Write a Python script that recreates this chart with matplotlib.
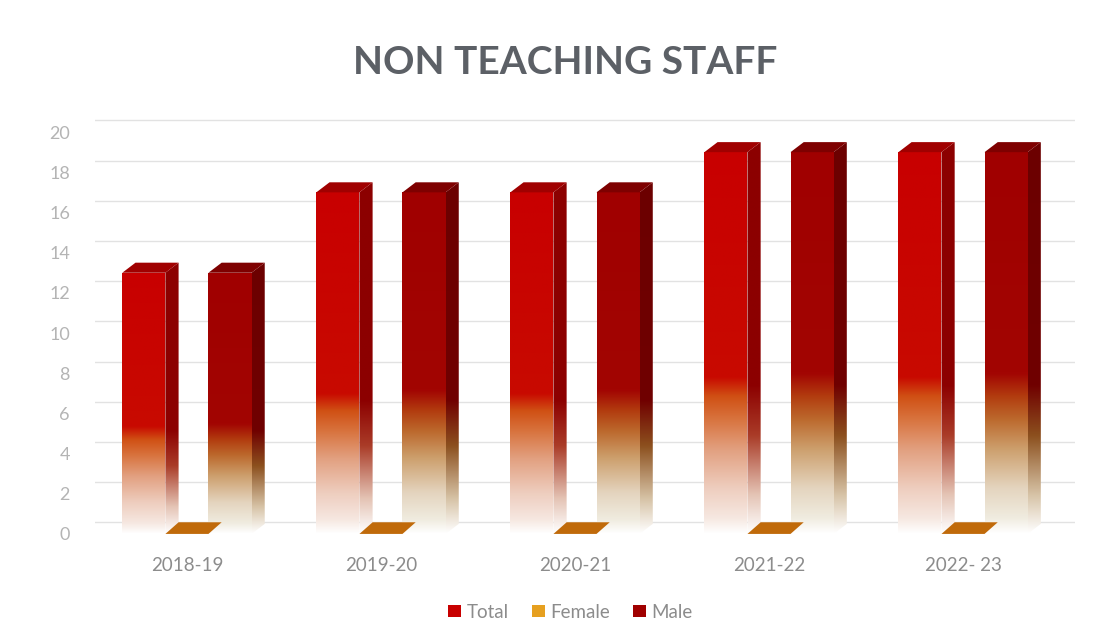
import numpy as np
import matplotlib
matplotlib.use("Agg")
import matplotlib.pyplot as plt
from matplotlib.patches import Polygon, Patch
from matplotlib.colors import LinearSegmentedColormap

categories = ["2018-19", "2019-20", "2020-21", "2021-22", "2022- 23"]
total = [13, 17, 17, 19, 19]
female = [0, 0, 0, 0, 0]
male = [13, 17, 17, 19, 19]
yticks = [0, 2, 4, 6, 8, 10, 12, 14, 16, 18, 20]

plt.rcParams['font.family'] = ['Lato', 'DejaVu Sans']

fig = plt.figure(figsize=(11.12, 6.41), dpi=100)
ax = fig.add_axes([0.0854, 0.1498, 0.8813, 0.6661])
ax.set_xlim(-0.474, 4.577)
ax.set_ylim(-0.55, 20.70)

W = 0.222      # bar width (category units)
OFF = 0.222    # offset of Total / Male
DX = 0.068     # 3D depth in x
DY = 0.5       # 3D depth in y
grid_off = 0.58

for v in yticks:
    ax.axhline(v + grid_off, color="#e2e2e2", lw=1.0, zorder=0)


def cmap_from(stops, name):
    return LinearSegmentedColormap.from_list(
        name, [(p, tuple(c / 255 for c in col)) for p, col in stops])


total_front = cmap_from([(0.0, (255, 255, 255)), (0.04, (246, 232, 225)),
                         (0.12, (238, 205, 190)), (0.22, (226, 160, 128)),
                         (0.3, (216, 115, 62)), (0.36, (208, 80, 20)),
                         (0.41, (200, 10, 0)), (1.0, (200, 0, 0))], "tf")
total_side = cmap_from([(0.0, (255, 255, 255)), (0.1, (228, 195, 180)),
                        (0.25, (170, 60, 40)), (0.38, (140, 0, 0)),
                        (1.0, (140, 0, 0))], "ts")
male_front = cmap_from([(0.0, (255, 255, 255)), (0.04, (240, 236, 224)),
                        (0.12, (228, 212, 190)), (0.22, (205, 160, 110)),
                        (0.3, (188, 105, 45)), (0.36, (178, 60, 15)),
                        (0.42, (162, 5, 2)), (1.0, (160, 0, 0))], "mf")
male_side = cmap_from([(0.0, (255, 255, 255)), (0.1, (214, 194, 165)),
                       (0.25, (140, 80, 30)), (0.38, (112, 0, 0)),
                       (1.0, (108, 0, 0))], "ms")

grad = np.linspace(0, 1, 256).reshape(-1, 1)


def gradient_poly(pts, cmap, ymax, z):
    poly = Polygon(pts, closed=True, facecolor="none", edgecolor="none", zorder=z)
    ax.add_patch(poly)
    xs = [p[0] for p in pts]
    im = ax.imshow(grad, extent=[min(xs), max(xs), 0, ymax], origin="lower",
                   aspect="auto", cmap=cmap, zorder=z, interpolation="bilinear")
    im.set_clip_path(poly)


def bar3d(xc, h, cf, cs, ctop, z):
    x0, x1 = xc - W / 2, xc + W / 2
    gradient_poly([(x1, 0), (x1 + DX, DY), (x1 + DX, h + DY), (x1, h)], cs, h + DY, z)
    gradient_poly([(x0, 0), (x1, 0), (x1, h), (x0, h)], cf, h, z + 0.1)
    ax.add_patch(Polygon([(x0, h), (x0 + DX, h + DY), (x1 + DX, h + DY), (x1, h)],
                         closed=True, facecolor=ctop, edgecolor="none", zorder=z + 0.2))


for i in range(len(categories)):
    bar3d(i - OFF, total[i], total_front, total_side, "#a00000", 2)
    bar3d(i + OFF, male[i], male_front, male_side, "#7e0000", 2)
    x0, x1 = i - W / 2, i + W / 2
    fv = female[i]
    ax.add_patch(Polygon([(x0, fv), (x1, fv), (x1 + DX, fv + 0.58), (x0 + DX, fv + 0.58)],
                         closed=True, facecolor="#c06a0a", edgecolor="none", zorder=3))

ax.set_xticks(range(len(categories)))
ax.set_xticklabels(categories)
ax.set_yticks(yticks)
ax.set_yticklabels([str(v) for v in yticks])
ax.tick_params(axis="x", length=0, pad=9, labelsize=13.5, labelcolor="#8c8c8c")
ax.tick_params(axis="y", length=0, pad=18, labelsize=13, labelcolor="#b4b4b4")
for s in ax.spines.values():
    s.set_visible(False)

fig.text(0.508, 0.903, "NON TEACHING STAFF", ha="center", va="center",
         fontsize=28, fontweight="bold", color="#5c6066")

handles = [Patch(facecolor="#c80000", label="Total"),
           Patch(facecolor="#e6a020", label="Female"),
           Patch(facecolor="#a00000", label="Male")]
fig.legend(handles=handles, loc="center", bbox_to_anchor=(0.513, 0.045), ncol=3,
           frameon=False, fontsize=13.5, handlelength=0.7, handleheight=0.55,
           handletextpad=0.3, columnspacing=1.2, labelcolor="#8c8c8c")

fig.savefig("out.png", dpi=100, facecolor="white")
